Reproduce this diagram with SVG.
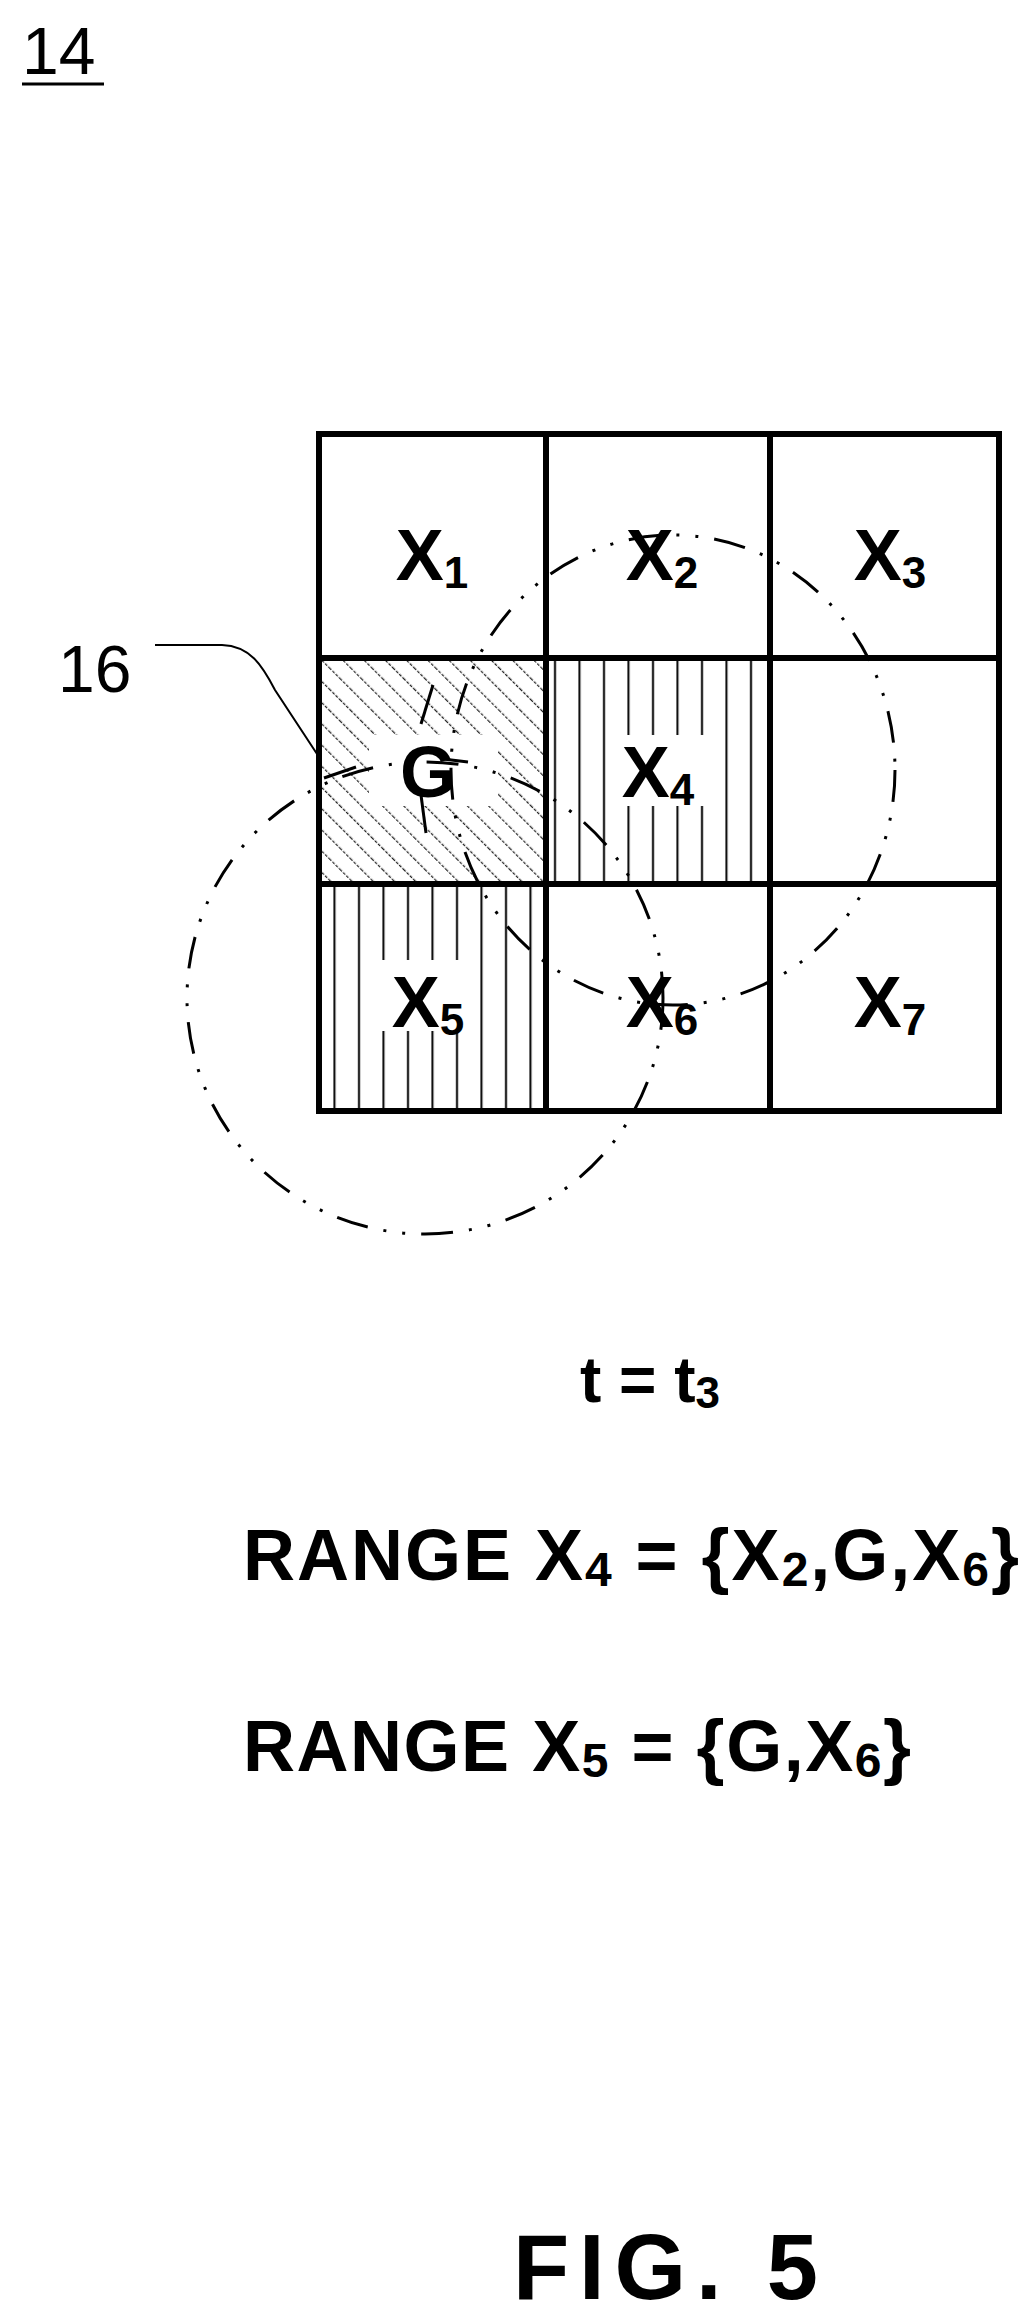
<svg xmlns="http://www.w3.org/2000/svg" width="1022" height="2315" viewBox="0 0 1022 2315">
<style>
text{font-family:"Liberation Sans",Arial,sans-serif;fill:#000}
.lbl{font-size:72px;font-weight:bold;text-anchor:middle}
.big{font-weight:bold}
.grid{fill:none;stroke:#000;stroke-width:6}
.rng{fill:none;stroke:#000;stroke-width:3;stroke-dasharray:32 16 3 16 3 16}
.tick{stroke:#000;stroke-width:3}
</style>
<defs>
<pattern id="diag" width="15" height="15" patternUnits="userSpaceOnUse" patternTransform="rotate(-45)">
<line x1="0" y1="0" x2="0" y2="15" stroke="#222" stroke-width="2.5" stroke-dasharray="3 1.5"/>
</pattern>
<pattern id="vert" width="24.5" height="20" patternUnits="userSpaceOnUse" x="4">
<line x1="12" y1="0" x2="12" y2="20" stroke="#000" stroke-width="2"/>
</pattern>
</defs>
<g id="title">
<text x="22" y="74" font-size="66">14</text>
<line x1="22" y1="84" x2="104" y2="84" stroke="#000" stroke-width="3"/>
</g>
<g id="cells">
<rect id="cellG" x="319" y="658" width="227" height="226" fill="url(#diag)"/>
<rect id="cellX4" x="546" y="658" width="224" height="226" fill="url(#vert)"/>
<rect id="cellX5" x="319" y="884" width="227" height="227" fill="url(#vert)"/>
<rect x="369" y="735" width="129" height="71" fill="#fff"/>
<rect x="610" y="735" width="100" height="71" fill="#fff"/>
<rect x="371" y="960" width="97" height="71" fill="#fff"/>
<rect class="grid" x="319" y="434" width="680" height="677"/>
<line class="grid" x1="546" y1="434" x2="546" y2="1111"/>
<line class="grid" x1="770" y1="434" x2="770" y2="1111"/>
<line class="grid" x1="319" y1="658" x2="999" y2="658"/>
<line class="grid" x1="319" y1="884" x2="999" y2="884"/>
</g>
<g id="labels">
<text class="lbl" x="432" y="580">X<tspan font-size="44" dy="8">1</tspan></text>
<text class="lbl" x="662" y="580">X<tspan font-size="44" dy="8">2</tspan></text>
<text class="lbl" x="890" y="580">X<tspan font-size="44" dy="8">3</tspan></text>
<text class="lbl" x="428" y="797">G</text>
<text class="lbl" x="658" y="797">X<tspan font-size="44" dy="8">4</tspan></text>
<text class="lbl" x="428" y="1027">X<tspan font-size="44" dy="8">5</tspan></text>
<text class="lbl" x="662" y="1027">X<tspan font-size="44" dy="8">6</tspan></text>
<text class="lbl" x="890" y="1027">X<tspan font-size="44" dy="8">7</tspan></text>
</g>
<g id="ranges">
<ellipse class="rng" cx="673" cy="770" rx="222" ry="235"/>
<ellipse class="rng" cx="425" cy="998" rx="238" ry="236"/>
<line class="tick" x1="433" y1="685" x2="421" y2="724"/>
<line class="tick" x1="421" y1="795" x2="426" y2="833"/>
<line class="tick" x1="324" y1="778" x2="356" y2="767"/>
<line class="tick" x1="443" y1="759" x2="468" y2="762"/>
</g>
<g id="ref16">
<text x="58" y="692" font-size="66">16</text>
<path d="M155 645 L222 645 C250 646 262 665 275 690 L319 757" fill="none" stroke="#000" stroke-width="2"/>
</g>
<g id="captions">
<text class="big" x="580" y="1402" font-size="64">t = t<tspan font-size="44" dy="6">3</tspan></text>
<text class="big" x="243" y="1580" font-size="72" textLength="776" lengthAdjust="spacing">RANGE X<tspan font-size="48" dy="6">4</tspan><tspan dy="-6"> = {X</tspan><tspan font-size="48" dy="6">2</tspan><tspan dy="-6">,G,X</tspan><tspan font-size="48" dy="6">6</tspan><tspan dy="-6">}</tspan></text>
<text class="big" x="243" y="1771" font-size="72" textLength="668" lengthAdjust="spacing">RANGE X<tspan font-size="48" dy="6">5</tspan><tspan dy="-6"> = {G,X</tspan><tspan font-size="48" dy="6">6</tspan><tspan dy="-6">}</tspan></text>
<text class="big" x="513" y="2299" font-size="92" textLength="305" lengthAdjust="spacing">FIG. 5</text>
</g>
</svg>
